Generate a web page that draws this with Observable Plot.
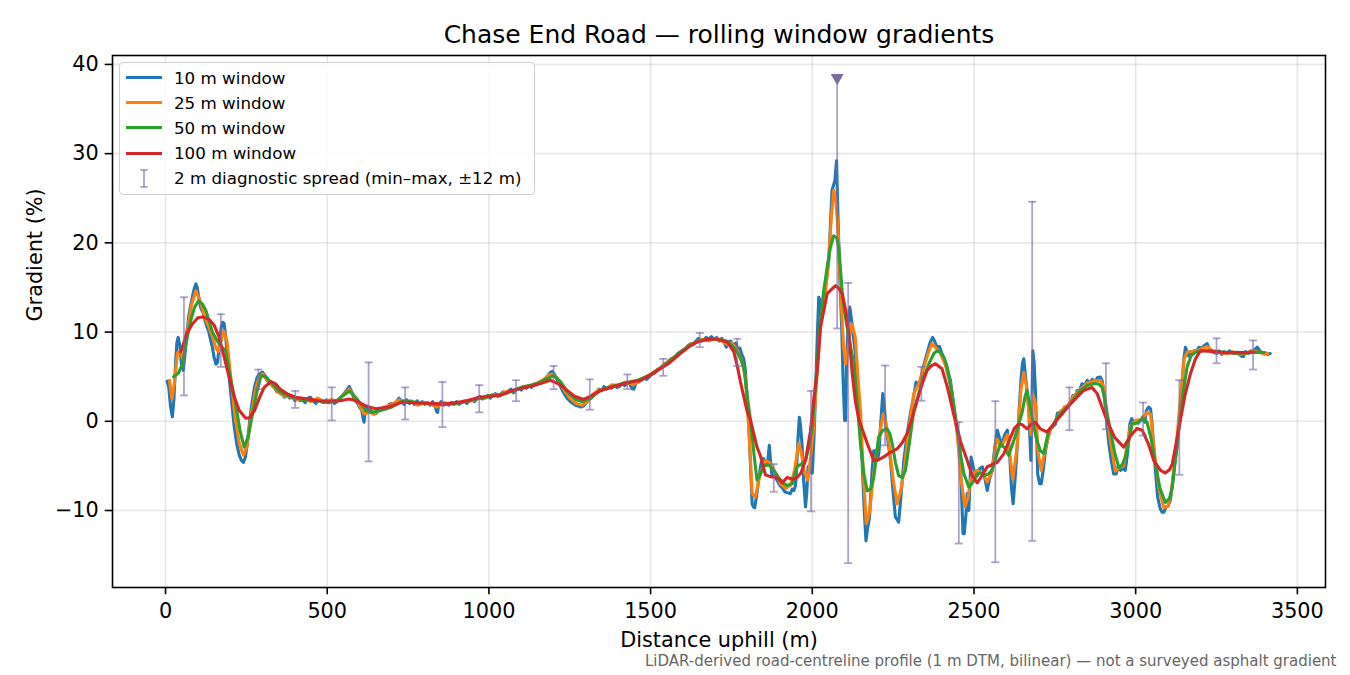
<!DOCTYPE html>
<html><head><meta charset="utf-8">
<script src="https://cdn.jsdelivr.net/npm/d3@7"></script>
<script src="https://cdn.jsdelivr.net/npm/@observablehq/plot@0.6"></script>
<style>
body{margin:0;background:#fff;}
#wrap{position:relative;width:1350px;height:675px;font-family:"DejaVu Sans";overflow:hidden;}
#legend{position:absolute;left:119px;top:62px;width:416px;height:133px;box-sizing:border-box;border:1px solid #cfcfcf;border-radius:4px;background:rgba(255,255,255,0.85);}
.lt{position:absolute;font-size:16.7px;line-height:20px;white-space:nowrap;color:#000;}
.ls{position:absolute;height:3px;width:36px;}
</style></head><body><div id="wrap"></div>
<script>
// ---- data (distance m, gradient %) ----
const xTicks = [0, 500, 1000, 1500, 2000, 2500, 3000, 3500];
const yTicks = [-10, 0, 10, 20, 30, 40];

const win10 = [[5,4.5],[10,3.8],[15,1.8],[21,0.5],[26,2.5],[31,6.5],[35,8.8],[39,9.4],[44,8.5],[49,6.5],[55,5.7],[60,7.5],[66,10.0],[72,11.8],[78,13.0],[85,14.3],[90,15.0],[94,15.4],[98,15.0],[104,13.6],[110,12.6],[116,12.2],[122,11.3],[128,10.6],[134,10.0],[140,9.0],[145,8.3],[150,7.2],[156,6.4],[161,6.6],[166,8.5],[172,10.5],[177,11.1],[181,11.0],[186,9.5],[192,7.0],[198,4.5],[205,2.0],[212,-0.5],[220,-2.5],[228,-3.8],[235,-4.4],[241,-4.6],[247,-4.0],[253,-2.5],[260,0.0],[267,2.0],[275,3.8],[283,4.9],[290,5.3],[300,5.5],[308,5.1],[315,4.5],[322,4.3],[330,4.0],[338,3.7],[345,3.3],[352,3.4],[360,3.0],[368,2.7],[376,3.0],[384,2.6],[393,2.7],[400,2.3],[408,2.6],[416,2.3],[424,2.4],[432,2.1],[440,2.6],[448,2.7],[456,2.3],[465,2.0],[473,2.5],[481,2.2],[490,2.1],[498,2.4],[506,2.1],[514,2.4],[522,2.0],[530,2.2],[540,2.6],[550,3.0],[560,3.5],[568,3.9],[576,3.3],[584,2.4],[592,2.1],[600,1.6],[607,1.2],[611,0.3],[614,-0.1],[617,1.0],[622,1.7],[628,1.2],[636,1.2],[644,0.8],[652,0.9],[660,1.3],[668,1.4],[676,1.6],[684,1.4],[692,1.9],[700,2.0],[708,1.8],[716,2.3],[722,2.6],[730,2.2],[738,1.9],[746,2.4],[754,2.0],[762,2.2],[770,1.9],[778,2.3],[786,1.9],[794,2.2],[802,1.9],[810,2.1],[818,1.8],[826,2.2],[834,1.7],[838,1.1],[841,1.0],[845,1.8],[852,2.2],[860,1.8],[868,2.0],[876,1.8],[884,2.1],[892,1.9],[900,2.2],[908,1.9],[916,2.1],[924,2.3],[932,2.0],[940,2.3],[948,2.4],[956,2.2],[964,2.6],[972,2.8],[980,2.5],[988,2.7],[996,2.9],[1004,2.6],[1012,2.9],[1020,3.1],[1028,2.8],[1036,3.0],[1044,3.3],[1052,3.1],[1060,3.4],[1068,3.6],[1076,3.2],[1084,3.5],[1092,3.7],[1100,3.5],[1108,3.9],[1116,3.7],[1124,4.0],[1132,3.8],[1140,4.2],[1148,4.1],[1156,4.4],[1164,4.3],[1172,4.7],[1180,5.0],[1188,5.4],[1196,5.6],[1204,5.2],[1212,4.6],[1220,4.0],[1228,3.4],[1236,2.9],[1244,2.5],[1252,2.2],[1260,2.0],[1268,1.8],[1276,1.7],[1284,1.6],[1292,1.7],[1300,2.0],[1308,2.4],[1316,2.6],[1324,3.0],[1332,3.2],[1340,3.6],[1348,3.4],[1356,3.9],[1364,3.6],[1372,3.8],[1380,3.7],[1388,4.0],[1396,3.8],[1404,3.9],[1412,4.2],[1420,4.0],[1428,4.4],[1436,4.2],[1442,3.7],[1448,3.6],[1455,4.3],[1463,4.4],[1471,4.6],[1480,4.8],[1488,4.7],[1496,5.0],[1504,5.3],[1512,5.4],[1520,5.8],[1528,5.9],[1536,6.2],[1544,6.4],[1552,6.6],[1560,6.9],[1568,7.1],[1576,7.2],[1584,7.6],[1592,7.8],[1600,8.0],[1608,8.1],[1616,8.5],[1624,8.7],[1632,8.6],[1640,9.0],[1648,9.3],[1656,9.0],[1664,9.1],[1672,9.4],[1680,9.2],[1688,9.5],[1696,9.2],[1704,9.4],[1712,9.0],[1720,9.3],[1728,8.8],[1734,8.3],[1740,8.9],[1748,9.0],[1756,8.5],[1764,8.8],[1770,8.0],[1776,8.2],[1782,7.5],[1788,7.0],[1793,5.7],[1798,3.0],[1804,-0.65],[1809,-5.0],[1814,-9.25],[1818,-9.6],[1822,-9.7],[1828,-8.3],[1834,-6.6],[1840,-5.0],[1845,-4.2],[1850,-4.2],[1856,-4.8],[1862,-4.6],[1867,-2.7],[1871,-4.5],[1875,-6.0],[1883,-6.2],[1891,-6.6],[1900,-7.2],[1908,-7.5],[1915,-7.9],[1923,-8.0],[1932,-8.1],[1938,-7.6],[1943,-7.75],[1948,-7.2],[1952,-5.0],[1956,-1.8],[1960,0.46],[1964,-0.6],[1968,-2.5],[1973,-6.5],[1979,-9.6],[1983,-8.0],[1987,-5.1],[1993,-5.5],[2000,-5.8],[2005,-2.0],[2010,3.1],[2015,9.0],[2020,13.9],[2024,13.5],[2028,11.7],[2034,12.8],[2041,15.0],[2046,16.5],[2051,18.0],[2056,22.0],[2061,25.9],[2066,26.5],[2070,27.0],[2075,29.2],[2079,23.6],[2083,18.5],[2087,14.3],[2091,10.5],[2095,4.95],[2100,0.1],[2103,0.1],[2106,6.8],[2111,11.0],[2116,12.8],[2121,11.5],[2126,9.8],[2132,8.0],[2139,4.95],[2146,0.5],[2154,-4.4],[2160,-9.5],[2166,-13.4],[2171,-12.0],[2177,-10.75],[2185,-5.5],[2190,-3.3],[2195,-3.3],[2201,-4.4],[2206,-3.5],[2212,0.0],[2218,3.1],[2222,2.0],[2228,-0.65],[2235,-2.5],[2242,-4.4],[2250,-8.0],[2257,-10.75],[2262,-11.0],[2267,-11.3],[2274,-8.5],[2283,-4.4],[2293,-1.5],[2303,0.8],[2312,2.5],[2321,4.4],[2328,4.0],[2334,4.2],[2344,6.2],[2355,7.6],[2364,8.8],[2372,9.4],[2378,9.0],[2386,8.3],[2393,8.4],[2401,7.6],[2412,6.4],[2420,5.5],[2427,4.6],[2435,2.5],[2443,0.1],[2450,-1.5],[2456,-2.5],[2461,-7.5],[2466,-12.6],[2470,-12.6],[2475,-10.5],[2479,-8.1],[2484,-10.0],[2491,-4.0],[2497,-5.0],[2503,-5.9],[2510,-6.1],[2518,-5.3],[2526,-5.1],[2534,-6.5],[2541,-7.75],[2548,-6.5],[2556,-5.5],[2564,-3.0],[2572,-1.0],[2580,-2.0],[2587,-2.5],[2595,-1.5],[2603,-1.0],[2610,-3.5],[2616,-7.5],[2621,-9.25],[2627,-6.5],[2633,-3.3],[2640,1.5],[2646,4.95],[2650,6.5],[2654,7.0],[2658,5.5],[2662,4.2],[2669,1.6],[2676,-4.4],[2679,2.0],[2682,7.9],[2686,6.5],[2690,3.45],[2697,-5.9],[2703,-7.0],[2708,-7.0],[2714,-5.5],[2721,-3.3],[2728,-2.0],[2736,-0.8],[2744,-0.6],[2752,-0.3],[2758,0.9],[2765,1.0],[2772,0.8],[2780,1.6],[2788,1.5],[2798,2.0],[2806,2.9],[2812,2.5],[2819,3.45],[2826,3.4],[2834,4.2],[2842,4.0],[2850,4.6],[2858,4.3],[2866,4.7],[2874,4.4],[2882,4.9],[2891,4.95],[2896,4.6],[2901,3.45],[2909,0.5],[2917,-2.5],[2925,-4.5],[2932,-5.9],[2940,-5.9],[2946,-5.0],[2953,-5.5],[2960,-5.3],[2968,-5.5],[2975,-3.5],[2982,-0.3],[2988,0.3],[2993,-0.2],[3000,0.1],[3008,-0.2],[3015,0.1],[3022,0.5],[3028,-0.1],[3033,1.2],[3040,1.6],[3046,1.4],[3050,0.0],[3056,-3.0],[3061,-5.5],[3068,-8.5],[3076,-9.8],[3082,-10.2],[3087,-10.2],[3094,-9.6],[3100,-9.5],[3107,-8.9],[3114,-7.0],[3121,-4.8],[3128,-2.9],[3136,0.8],[3143,3.8],[3149,7.0],[3154,8.3],[3159,7.8],[3164,7.3],[3170,7.8],[3175,7.5],[3180,7.9],[3188,7.9],[3196,8.3],[3204,8.2],[3212,8.5],[3221,8.7],[3228,8.1],[3236,7.8],[3243,7.7],[3251,7.6],[3258,7.9],[3266,7.5],[3274,7.8],[3282,7.6],[3290,7.9],[3298,7.7],[3306,7.6],[3313,7.75],[3320,7.5],[3327,7.3],[3333,7.25],[3340,7.8],[3348,7.6],[3356,7.9],[3364,7.8],[3370,8.1],[3376,8.3],[3384,7.9],[3392,7.6],[3400,7.7],[3408,7.5],[3416,7.6]];

const win25 = [[12,4.6],[20,2.5],[28,4.5],[37,7.7],[45,7.8],[54,6.9],[65,9.5],[80,13.0],[94,14.6],[108,13.4],[122,11.6],[135,10.5],[145,9.5],[155,8.3],[163,7.8],[172,9.0],[180,10.1],[190,9.0],[200,5.5],[215,0.5],[228,-2.5],[241,-3.8],[252,-2.8],[265,0.8],[280,3.8],[290,5.0],[300,5.3],[315,4.6],[330,4.0],[350,3.2],[370,2.8],[390,2.7],[410,2.4],[430,2.5],[450,2.2],[470,2.6],[490,2.2],[510,2.4],[530,2.3],[550,3.0],[568,3.6],[580,3.0],[600,1.8],[614,0.8],[630,1.0],[645,0.8],[660,1.2],[680,1.6],[700,1.9],[722,2.4],[740,2.1],[760,2.3],[780,1.8],[800,2.1],[820,1.9],[841,1.6],[860,2.1],[880,1.9],[900,2.0],[920,2.2],[950,2.3],[970,2.7],[990,2.6],[1010,3.0],[1030,2.9],[1050,3.3],[1073,3.4],[1090,3.6],[1110,3.9],[1130,4.0],[1150,4.3],[1170,4.7],[1185,5.2],[1196,5.3],[1210,4.9],[1230,3.6],[1250,2.6],[1270,2.0],[1288,1.8],[1305,2.2],[1320,3.0],[1340,3.5],[1360,3.6],[1380,4.1],[1400,4.0],[1420,4.4],[1448,4.1],[1470,4.7],[1500,5.3],[1530,6.0],[1560,6.9],[1590,7.6],[1620,8.6],[1640,8.9],[1660,9.2],[1680,9.0],[1700,9.3],[1720,9.0],[1737,8.6],[1750,8.8],[1765,8.2],[1780,7.0],[1793,5.0],[1804,-1.0],[1814,-8.1],[1824,-8.5],[1839,-5.8],[1855,-4.4],[1867,-4.6],[1876,-5.1],[1890,-6.0],[1901,-7.0],[1918,-7.5],[1932,-7.2],[1945,-5.5],[1958,-2.5],[1966,-3.5],[1974,-5.5],[1986,-6.6],[1995,-4.0],[2004,-0.65],[2015,5.5],[2025,10.5],[2036,13.5],[2046,16.2],[2054,20.0],[2059,22.9],[2066,25.9],[2072,25.0],[2079,21.8],[2087,15.0],[2097,8.3],[2103,6.45],[2110,8.0],[2118,10.5],[2123,10.9],[2133,9.4],[2141,5.0],[2149,1.2],[2158,-6.0],[2167,-11.5],[2175,-10.5],[2180,-9.25],[2188,-6.5],[2195,-4.4],[2208,-1.5],[2219,0.8],[2228,-0.2],[2237,-2.5],[2250,-6.5],[2262,-9.25],[2272,-8.0],[2283,-5.8],[2298,-1.0],[2314,3.1],[2330,4.3],[2345,6.1],[2360,7.8],[2370,8.7],[2383,8.2],[2396,7.6],[2410,6.5],[2427,4.2],[2440,0.8],[2448,-1.4],[2460,-6.5],[2472,-9.6],[2482,-8.5],[2489,-6.6],[2500,-5.8],[2510,-5.5],[2525,-5.8],[2541,-6.8],[2556,-5.6],[2570,-2.0],[2585,-2.8],[2603,-1.5],[2620,-6.5],[2633,-3.0],[2645,3.5],[2654,5.5],[2662,4.0],[2670,1.0],[2676,-1.5],[2682,3.0],[2690,2.0],[2698,-3.5],[2708,-5.5],[2721,-3.0],[2736,-1.0],[2752,0.0],[2767,1.1],[2790,1.8],[2810,2.9],[2830,3.6],[2850,4.3],[2870,4.5],[2891,4.6],[2901,3.8],[2912,0.5],[2922,-2.2],[2937,-5.6],[2950,-5.2],[2963,-5.0],[2975,-2.5],[2984,-0.5],[3000,0.1],[3020,0.2],[3035,1.0],[3046,0.8],[3058,-3.5],[3072,-7.5],[3087,-9.7],[3100,-9.5],[3110,-8.0],[3125,-3.0],[3138,2.5],[3150,7.0],[3160,7.8],[3175,7.8],[3195,8.0],[3221,8.4],[3240,7.8],[3260,7.7],[3282,7.6],[3300,7.8],[3320,7.5],[3340,7.6],[3360,7.9],[3380,7.8],[3400,7.5],[3408,7.6]];

const win50 = [[25,5.0],[40,5.4],[52,6.4],[65,9.0],[78,11.3],[90,12.8],[102,13.5],[115,13.1],[125,12.4],[135,11.2],[145,10.0],[160,9.0],[175,8.3],[186,7.9],[200,5.0],[217,1.95],[230,-1.0],[243,-2.9],[255,-1.8],[269,0.8],[282,3.2],[295,5.1],[310,5.0],[330,4.2],[350,3.4],[370,3.0],[400,2.6],[430,2.4],[470,2.3],[500,2.1],[530,2.3],[550,2.9],[568,3.4],[590,2.6],[620,1.2],[640,1.0],[665,1.2],[700,1.6],[733,2.3],[760,2.2],[800,2.0],[850,1.9],[900,2.0],[950,2.4],[1000,2.8],[1050,3.1],[1100,3.8],[1150,4.2],[1180,4.8],[1200,5.1],[1220,4.5],[1245,3.2],[1270,2.4],[1290,2.2],[1315,2.6],[1345,3.5],[1380,3.9],[1420,4.3],[1460,4.6],[1500,5.2],[1540,6.2],[1580,7.4],[1620,8.5],[1650,9.0],[1680,9.2],[1710,9.2],[1735,9.0],[1757,8.3],[1775,7.3],[1788,6.1],[1800,2.5],[1809,0.1],[1820,-3.8],[1829,-6.6],[1838,-6.1],[1850,-5.0],[1866,-4.9],[1880,-5.5],[1896,-6.3],[1910,-6.9],[1922,-7.2],[1938,-7.0],[1953,-5.1],[1966,-4.8],[1979,-4.4],[1990,-2.8],[2000,-0.65],[2012,5.0],[2025,11.3],[2036,14.8],[2046,17.3],[2056,19.5],[2066,20.8],[2075,20.6],[2082,19.5],[2092,14.7],[2100,12.2],[2108,10.5],[2118,8.5],[2128,6.45],[2138,2.5],[2149,-2.5],[2160,-6.0],[2170,-7.8],[2180,-7.6],[2190,-6.3],[2198,-4.0],[2205,-1.8],[2218,-1.0],[2231,-0.85],[2240,-1.4],[2247,-2.5],[2257,-4.6],[2267,-6.1],[2278,-6.3],[2288,-5.5],[2300,-2.5],[2314,1.2],[2330,3.2],[2345,4.95],[2360,6.4],[2376,7.6],[2386,7.9],[2396,7.75],[2407,7.2],[2417,6.1],[2432,3.0],[2448,-0.65],[2458,-3.6],[2469,-5.9],[2484,-7.4],[2497,-6.8],[2510,-5.9],[2520,-5.8],[2531,-6.1],[2545,-5.9],[2556,-5.5],[2570,-3.8],[2582,-2.5],[2595,-3.0],[2607,-3.8],[2620,-2.5],[2633,-1.0],[2649,1.0],[2658,2.8],[2664,3.45],[2672,2.0],[2680,0.46],[2692,-1.8],[2705,-3.3],[2716,-3.6],[2731,-1.0],[2747,-0.3],[2757,0.46],[2780,1.3],[2798,1.96],[2815,2.8],[2829,3.45],[2850,4.0],[2870,4.2],[2885,4.2],[2896,3.8],[2905,2.4],[2912,0.8],[2922,-1.0],[2935,-3.5],[2948,-5.2],[2958,-4.9],[2968,-4.0],[2980,-2.0],[2989,-0.3],[3004,-0.2],[3015,0.1],[3025,0.3],[3035,-0.1],[3048,-2.0],[3061,-4.8],[3075,-7.5],[3092,-9.1],[3105,-8.6],[3113,-7.4],[3122,-4.5],[3133,-1.0],[3146,3.0],[3159,6.1],[3172,7.4],[3185,7.75],[3210,7.9],[3236,7.9],[3260,7.8],[3290,7.7],[3319,7.6],[3350,7.7],[3386,7.75],[3395,7.7]];

const win100 = [[47,7.75],[65,9.8],[83,10.9],[100,11.6],[115,11.7],[135,11.4],[150,10.8],[166,9.4],[180,7.4],[197,4.9],[212,2.8],[228,1.2],[248,0.35],[260,0.4],[275,1.2],[290,2.6],[305,3.8],[326,4.45],[340,4.2],[355,3.6],[380,3.0],[403,2.7],[440,2.5],[470,2.3],[506,2.25],[540,2.3],[568,2.5],[590,2.3],[620,1.7],[650,1.4],[690,1.6],[733,2.15],[780,2.05],[830,2.0],[867,1.95],[920,2.2],[970,2.7],[1000,2.8],[1036,2.9],[1060,3.3],[1087,3.6],[1139,4.0],[1190,4.6],[1215,4.2],[1242,3.45],[1265,2.8],[1293,2.45],[1320,2.9],[1345,3.45],[1397,4.0],[1440,4.4],[1469,4.6],[1500,5.2],[1530,5.9],[1560,6.6],[1592,7.6],[1620,8.4],[1644,8.9],[1670,9.15],[1695,9.25],[1716,9.1],[1737,8.9],[1757,7.8],[1768,6.2],[1778,4.4],[1798,1.2],[1809,0.1],[1829,-2.9],[1840,-3.9],[1855,-6.0],[1870,-6.2],[1891,-6.3],[1907,-6.9],[1922,-6.3],[1940,-6.5],[1953,-6.3],[1965,-5.8],[1979,-4.4],[1994,-1.2],[2004,2.3],[2015,5.5],[2025,10.5],[2046,14.3],[2060,14.8],[2072,15.2],[2082,14.9],[2092,14.3],[2103,12.5],[2113,9.8],[2123,5.5],[2133,2.3],[2144,0.2],[2154,-0.85],[2170,-2.5],[2190,-4.4],[2205,-4.3],[2221,-4.0],[2240,-3.5],[2262,-3.1],[2278,-2.4],[2293,-1.4],[2308,0.3],[2324,2.3],[2340,4.2],[2355,5.7],[2368,6.2],[2381,6.45],[2401,5.9],[2418,3.8],[2437,0.8],[2458,-2.2],[2479,-4.4],[2495,-6.1],[2510,-6.9],[2525,-6.1],[2541,-5.1],[2572,-4.6],[2592,-3.65],[2613,-1.8],[2625,-0.8],[2638,-0.3],[2650,-0.4],[2664,-0.85],[2678,-0.3],[2690,-0.1],[2705,-0.85],[2726,-1.2],[2742,-0.5],[2767,0.6],[2790,1.6],[2808,2.3],[2839,3.45],[2865,3.8],[2881,3.1],[2897,1.5],[2912,0.0],[2935,-1.8],[2963,-2.9],[2985,-1.6],[3004,-0.8],[3020,-1.0],[3040,-2.6],[3056,-4.4],[3077,-5.5],[3092,-5.8],[3105,-5.4],[3113,-4.8],[3125,-2.5],[3138,0.1],[3153,3.0],[3169,5.3],[3185,7.0],[3200,7.9],[3225,7.85],[3250,7.8],[3275,7.7],[3302,7.7],[3335,7.7],[3365,7.75]];

// 2 m diagnostic spread (min-max within ±12 m)
const spreadDist = [57,171,287,401,514,628,741,856,970,1084,1200,1312,1428,1539,1652,1768,1881,1996,2077,2111,2225,2337,2453,2566,2680,2795,2908,3023,3135,3250,3363];
const spreadLo   = [2.9,6.1,3.6,1.5,0.1,-4.5,0.2,-0.65,1.0,2.25,3.6,1.3,3.6,5.1,8.3,6.2,-7.9,-10.1,10.4,-15.9,-2.7,2.3,-13.7,-15.8,-13.4,-1.0,-0.9,-1.6,-6.0,6.5,5.8];
const spreadHi   = [13.9,12.0,5.8,3.4,3.8,6.6,3.8,4.4,4.05,4.6,6.2,4.7,5.25,7.0,9.9,9.25,-4.8,3.4,38.5,15.5,6.25,6.1,-0.1,2.25,24.6,3.8,6.5,2.1,4.6,9.3,9.06];
const clippedDist = [2077];
const clippedHi = [38.5];

const series = [
  {name: "10 m window", color: "#1f77b4", pts: win10},
  {name: "25 m window", color: "#ff7f0e", pts: win25},
  {name: "50 m window", color: "#2ca02c", pts: win50},
  {name: "100 m window", color: "#d62728", pts: win100}
];
const spreadColor = "#7b68a6";

const spreadRows = spreadDist.map((d, i) => ({d, lo: spreadLo[i], hi: spreadHi[i]}));
const clippedRows = clippedDist.map((d, i) => ({d, hi: clippedHi[i]}));
const capSymbol = {draw(ctx, size) { const r = Math.sqrt(size / Math.PI); ctx.moveTo(-r, 0); ctx.lineTo(r, 0); }};
const fmtY = d => (d < 0 ? "\u2212" : "") + Math.abs(d);
const fmtX = d => String(d);

const lineMarks = series.map(s => Plot.line(s.pts.map(([d, g]) => ({d, g})), {
  x: "d", y: "g", stroke: s.color, strokeWidth: 3.1, strokeLinejoin: "round"
}));

const chart = Plot.plot({
  width: 1350, height: 675,
  marginLeft: 112, marginRight: 25, marginTop: 55, marginBottom: 88,
  style: {fontFamily: "DejaVu Sans", fontSize: "20.8px", color: "black", background: "white", overflow: "visible"},
  x: {type: "linear", domain: [-164, 3587], label: null},
  y: {type: "linear", domain: [-18.63, 41.0], label: null},
  marks: [
    Plot.gridX({ticks: xTicks, stroke: "#b0b0b0", strokeOpacity: 0.3, strokeWidth: 1.6}),
    Plot.gridY({ticks: yTicks, stroke: "#b0b0b0", strokeOpacity: 0.3, strokeWidth: 1.6}),
    ...lineMarks,
    Plot.ruleX(spreadRows, {x: "d", y1: "lo", y2: "hi", stroke: spreadColor, strokeOpacity: 0.62, strokeWidth: 1.8}),
    Plot.dot(spreadRows, {x: "d", y: "lo", symbol: capSymbol, r: 4, stroke: spreadColor, strokeOpacity: 0.62, strokeWidth: 1.8, fill: "none"}),
    Plot.dot(spreadRows, {x: "d", y: "hi", symbol: capSymbol, r: 4, stroke: spreadColor, strokeOpacity: 0.62, strokeWidth: 1.8, fill: "none"}),
    Plot.dot(clippedRows, {x: "d", y: "hi", symbol: "triangle", r: 4.8, rotate: 180, fill: "#7a6d9f", stroke: "none"}),
    Plot.frame({stroke: "black", strokeWidth: 1.6}),
    Plot.axisX({ticks: xTicks, tickSize: 7.3, tickPadding: 8.4, fontSize: 20.8, strokeWidth: 1.6, tickFormat: fmtX, label: null}),
    Plot.axisY({ticks: yTicks, tickSize: 7.3, tickPadding: 6.4, fontSize: 20.8, strokeWidth: 1.6, tickFormat: fmtY, label: null}),
    Plot.text(["Chase End Road \u2014 rolling window gradients"], {text: d => d, frameAnchor: "top", lineAnchor: "bottom", dy: -13, fontSize: 25, fill: "black"}),
    Plot.text(["Distance uphill (m)"], {text: d => d, frameAnchor: "bottom", lineAnchor: "bottom", dy: 59, fontSize: 20.8, fill: "black"}),
    Plot.text(["Gradient (%)"], {text: d => d, frameAnchor: "left", rotate: -90, dx: -77, fontSize: 20.8, fill: "black"}),
    Plot.text(["LiDAR-derived road-centreline profile (1 m DTM, bilinear) \u2014 not a surveyed asphalt gradient"], {text: d => d, frameAnchor: "bottom-right", textAnchor: "end", lineAnchor: "bottom", dx: 11, dy: 78, fontSize: 15, fill: "#666666"})
  ]
});

const wrap = document.getElementById("wrap");
wrap.appendChild(chart);

// legend (HTML overlay in the upper-left corner of the plot area)
const legend = document.createElement("div");
legend.id = "legend";
wrap.appendChild(legend);
const baselines = [83.3, 108.5, 133.7, 158.9, 184.1];
function addText(label, baseline) {
  const t = document.createElement("div");
  t.className = "lt";
  t.style.left = "174px";
  t.style.top = (baseline - 15.8) + "px";
  t.textContent = label;
  wrap.appendChild(t);
}
series.forEach((s, i) => {
  const sw = document.createElement("div");
  sw.className = "ls";
  sw.style.left = "126px";
  sw.style.top = (baselines[i] - 5.8 - 1.5) + "px";
  sw.style.background = s.color;
  wrap.appendChild(sw);
  addText(s.name, baselines[i]);
});
// error-bar legend icon
const icon = document.createElementNS("http://www.w3.org/2000/svg", "svg");
icon.setAttribute("width", "20"); icon.setAttribute("height", "24");
icon.style.position = "absolute"; icon.style.left = "134px"; icon.style.top = "166px";
icon.innerHTML = `<g stroke="${spreadColor}" stroke-opacity="0.62" stroke-width="1.8"><line x1="10" x2="10" y1="4" y2="21"/><line x1="6.3" x2="13.7" y1="4" y2="4"/><line x1="6.3" x2="13.7" y1="21" y2="21"/></g>`;
wrap.appendChild(icon);
addText("2 m diagnostic spread (min\u2013max, \u00b112 m)", baselines[4]);
</script></body></html>
